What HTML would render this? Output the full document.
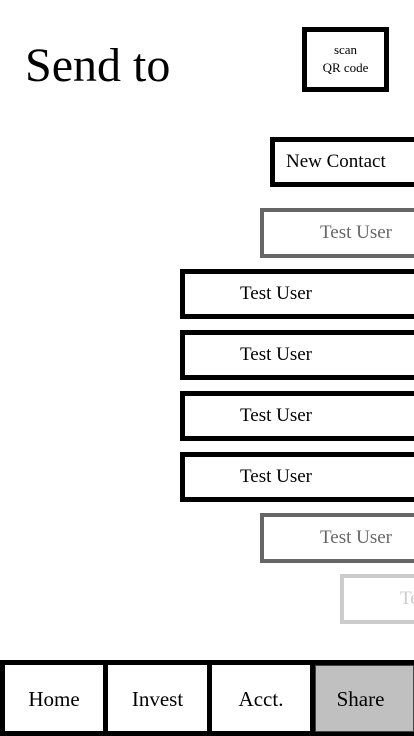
<!DOCTYPE html>
<html><head><meta charset="utf-8"><style>
html,body{margin:0;padding:0;background:#fff;width:414px;height:736px;overflow:hidden;position:relative;font-family:"Liberation Serif",serif;}
.b{position:absolute;box-sizing:border-box;background:#fff;}
.r{border-right:none !important;right:0;}
.t{position:absolute;white-space:nowrap;font-size:19px;line-height:20px;overflow:hidden;}
</style></head><body>
<div class="t" style="left:25px;top:39px;font-size:48px;line-height:54px;">Send to</div>
<div class="b" style="left:302px;top:27px;width:87px;height:65px;border:5px solid #000;"></div>
<div class="t" style="left:302px;top:41px;width:87px;text-align:center;font-size:13px;line-height:18px;white-space:normal;">scan<br>QR code</div>

<div class="b r" style="left:270px;top:137px;height:50px;border:5px solid #000;"></div>
<div class="t" style="left:286px;top:152px;">New Contact</div>

<div class="b r" style="left:260px;top:208px;height:50px;border:4px solid #666;"></div>
<div class="t" style="left:320px;top:223px;color:#666;">Test User</div>

<div class="b r" style="left:180px;top:269px;height:50px;border:5px solid #000;"></div>
<div class="t" style="left:240px;top:284px;">Test User</div>
<div class="b r" style="left:180px;top:330px;height:50px;border:5px solid #000;"></div>
<div class="t" style="left:240px;top:345px;">Test User</div>
<div class="b r" style="left:180px;top:391px;height:50px;border:5px solid #000;"></div>
<div class="t" style="left:240px;top:406px;">Test User</div>
<div class="b r" style="left:180px;top:452px;height:50px;border:5px solid #000;"></div>
<div class="t" style="left:240px;top:467px;">Test User</div>

<div class="b r" style="left:260px;top:513px;height:50px;border:4px solid #666;"></div>
<div class="t" style="left:320px;top:528px;color:#666;">Test User</div>

<div class="b r" style="left:340px;top:574px;height:50px;border:4px solid #ccc;"></div>
<div class="t" style="left:400px;top:589px;width:14px;color:#ccc;">Test User</div>

<div class="b" style="left:0;top:660px;width:414px;height:76px;background:#000;"></div>
<div class="b" style="left:5px;top:665px;width:98px;height:66px;"></div>
<div class="b" style="left:108px;top:665px;width:99px;height:66px;"></div>
<div class="b" style="left:212px;top:665px;width:98px;height:66px;"></div>
<div class="b" style="left:315px;top:665px;width:99px;height:67px;background:#c0c0c0;border:1px solid #444;"></div>
<div class="t" style="left:5px;top:688px;width:98px;text-align:center;font-size:21px;line-height:22px;">Home</div>
<div class="t" style="left:108px;top:688px;width:99px;text-align:center;font-size:21px;line-height:22px;">Invest</div>
<div class="t" style="left:212px;top:688px;width:98px;text-align:center;font-size:21px;line-height:22px;">Acct.</div>
<div class="t" style="left:313px;top:688px;width:95px;text-align:center;font-size:21px;line-height:22px;">Share</div>
</body></html>
